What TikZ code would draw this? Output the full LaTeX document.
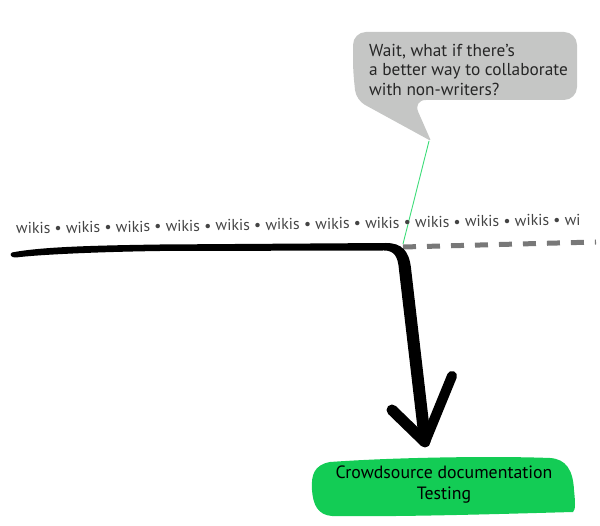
\documentclass[tikz,border=0pt]{standalone}
\usepackage{fontspec}
\setmainfont{PT Sans}
\definecolor{bubblegray}{RGB}{197,198,197}
\definecolor{blobgreen}{RGB}{19,204,85}
\definecolor{linegreen}{RGB}{60,220,120}
\definecolor{dashgray}{RGB}{120,120,120}
\definecolor{textgray}{RGB}{68,68,68}
\tikzset{
  bubbletext/.style={font=\fontsize{17.3}{19.5}\selectfont, text=black!85, align=left, inner sep=0pt},
  wikistext/.style={font=\fontsize{15.8}{18}\selectfont, text=textgray, inner sep=0pt},
  blobtext/.style={font=\fontsize{17.8}{21}\selectfont, text=black, align=center, inner sep=0pt},
  inkstroke/.style={line width=11pt, line cap=round, line join=round, black},
}
\begin{document}
\begin{tikzpicture}[x=1pt,y=-1pt]
\useasboundingbox (0,0) rectangle (600,526);
% speech bubble
\fill[bubblegray, rounded corners=13pt] (353,70) -- (353,32) -- (577,32) -- (577,100) -- (413,100)
  [rounded corners=1.5pt] -- (431,141) [rounded corners=10pt] -- (356,100) -- cycle;
\node[bubbletext, anchor=north west] (q) at (369,44) {Wait, what if there’s\\a better way to collaborate\\with non-writers?};
\coordinate (tip) at (429,141);
\coordinate (here) at (403,244);
\draw[linegreen, line width=0.9pt] (tip) -- (here);
% wikis text
\node[wikistext, anchor=base west, rotate=0.9] (w) at (16,234) {wikis • wikis • wikis • wikis • wikis • wikis • wikis • wikis • wikis • wikis • wikis • wi};
% dashed continuation
\draw[dashgray, line width=5pt, dash pattern=on 13pt off 11pt] (here) ++(0,3) coordinate (d0) -- (596,242) coordinate (d1);
% black hand-drawn stroke
\fill[black] (12,252.5) .. controls (40,247) and (90,245.5) .. (160,244.5) -- (386,243)
  .. controls (402,243) and (409,251) .. (411,268) -- (431,440)
  -- (419,441) -- (399,270) .. controls (398,256) and (394,250.5) .. (384,250.5)
  -- (160,251) .. controls (90,252) and (35,255) .. (16,257.5)
  .. controls (11,258) and (9,254) .. (12,252.5) -- cycle;
\coordinate (armL) at (392,410);
\coordinate (arrowtip) at (425,442);
\coordinate (armR) at (452,376);
\draw[inkstroke] (armL) -- (arrowtip);
\draw[inkstroke, line width=10pt] (arrowtip) -- (armR);
% green blob
\fill[blobgreen] (330,462) .. controls (400,457) and (500,456) .. (550,458)
  .. controls (566,459) and (573,470) .. (574,490)
  .. controls (575,500) and (576,510) .. (573,512)
  .. controls (500,514) and (400,517) .. (332,516)
  .. controls (318,515) and (313,505) .. (312,490)
  .. controls (311,475) and (314,465) .. (330,462) -- cycle;
\node[blobtext, anchor=north] (goal) at (444,466) {Crowdsource documentation\\Testing};
\end{tikzpicture}
\end{document}
